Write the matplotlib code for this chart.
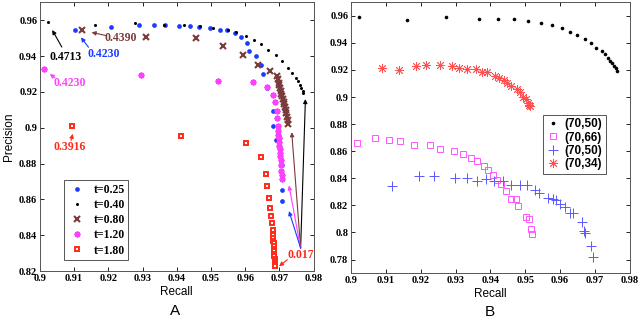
import numpy as np
import matplotlib
matplotlib.use("Agg")
import matplotlib.pyplot as plt

plt.rcParams["font.family"] = ["Liberation Sans", "DejaVu Sans"]

# ---- panel A data (precision / recall for several thresholds t) ----
a_labels = ["t=0.25", "t=0.40", "t=0.80", "t=1.20", "t=1.80"]

a_x_025 = [0.9103, 0.9208, 0.9291, 0.9332, 0.9366, 0.9407, 0.9438, 0.9466, 0.9496,
           0.9527, 0.9548, 0.9571, 0.9587, 0.9604, 0.9612, 0.9633, 0.9645, 0.9652,
           0.9665, 0.9680, 0.9682, 0.9691, 0.9709, 0.9709, 0.9709]
a_y_025 = [0.9543, 0.9560, 0.9571, 0.9575, 0.9571, 0.9565, 0.9565, 0.9564, 0.9557,
           0.9545, 0.9545, 0.9529, 0.9508, 0.9473, 0.9430, 0.9398, 0.9350, 0.9302,
           0.9222, 0.9096, 0.9012, 0.8929, 0.8793, 0.8654, 0.8589]

a_x_040 = [0.9024, 0.9161, 0.9277, 0.9364, 0.9421, 0.9467, 0.9506, 0.9551, 0.9573,
           0.9603, 0.9626, 0.9647, 0.9667, 0.9690, 0.9709, 0.9725, 0.9738, 0.9748,
           0.9755, 0.9760, 0.9764, 0.9768, 0.9770]
a_y_040 = [0.9592, 0.9573, 0.9584, 0.9573, 0.9575, 0.9568, 0.9557, 0.9545, 0.9532,
           0.9514, 0.9491, 0.9467, 0.9434, 0.9406, 0.9371, 0.9334, 0.9304, 0.9280,
           0.9260, 0.9240, 0.9220, 0.9204, 0.9195]

a_x_080 = [0.9124, 0.9310, 0.9455, 0.9536, 0.9595, 0.9638, 0.9672, 0.9692,
           0.9695, 0.9698, 0.9700, 0.9702, 0.9704, 0.9706, 0.9708, 0.9710,
           0.9712, 0.9714, 0.9716, 0.9718, 0.9720, 0.9722, 0.9724, 0.9726]
a_y_080 = [0.9545, 0.9508, 0.9502, 0.9458, 0.9408, 0.9350, 0.9315, 0.9291,
           0.9270, 0.9252, 0.9236, 0.9220, 0.9205, 0.9190, 0.9175, 0.9160,
           0.9145, 0.9130, 0.9113, 0.9097, 0.9080, 0.9062, 0.9042, 0.9020]

a_x_120 = [0.9012, 0.9296, 0.9520, 0.9623, 0.9665, 0.9680, 0.9687, 0.9692, 0.9694,
           0.9696, 0.9697, 0.9697, 0.9698, 0.9699, 0.9700, 0.9701, 0.9702, 0.9703,
           0.9704, 0.9705, 0.9706, 0.9707, 0.9707]
a_y_120 = [0.9328, 0.9296, 0.9263, 0.9253, 0.9229, 0.9185, 0.9142, 0.9096, 0.9053,
           0.9012, 0.8980, 0.8960, 0.8940, 0.8920, 0.8900, 0.8880, 0.8860, 0.8840,
           0.8820, 0.8790, 0.8760, 0.8735, 0.8712]

a_x_180 = [0.9093, 0.9412, 0.9603, 0.9645, 0.9660, 0.9665, 0.9670, 0.9673, 0.9675,
           0.9677, 0.9680, 0.9681, 0.9682, 0.9682, 0.9683, 0.9683, 0.9684, 0.9684,
           0.9685, 0.9685, 0.9686, 0.9686, 0.9687, 0.9687, 0.9688]
a_y_180 = [0.9008, 0.8955, 0.8916, 0.8836, 0.8743, 0.8673, 0.8610, 0.8554, 0.8505,
           0.8468, 0.8431, 0.8400, 0.8385, 0.8370, 0.8355, 0.8340, 0.8325, 0.8310,
           0.8295, 0.8282, 0.8270, 0.8258, 0.8246, 0.8236, 0.8227]

# ---- panel B data ----
b_labels = ["(70,50)", "(70,66)", "(70,50)", "(70,34)"]

b_x_black = [0.9023, 0.9161, 0.9274, 0.9367, 0.9422, 0.9468, 0.9509, 0.9544, 0.9576,
             0.9604, 0.9627, 0.9648, 0.9670, 0.9690, 0.9704, 0.9719, 0.9730, 0.9738,
             0.9743, 0.9748, 0.9755, 0.9759, 0.9764]
b_y_black = [0.9590, 0.9570, 0.9590, 0.9580, 0.9580, 0.9575, 0.9565, 0.9546, 0.9531,
             0.9511, 0.9484, 0.9459, 0.9427, 0.9398, 0.9365, 0.9341, 0.9316, 0.9287,
             0.9267, 0.9249, 0.9230, 0.9213, 0.9193]

b_x_sq = [0.9018, 0.9070, 0.9109, 0.9140, 0.9180, 0.9226, 0.9255, 0.9295, 0.9320,
          0.9343, 0.9362, 0.9382, 0.9394, 0.9408, 0.9420, 0.9430, 0.9444, 0.9458,
          0.9473, 0.9479, 0.9503, 0.9511, 0.9517, 0.9520]
b_y_sq = [0.8661, 0.8699, 0.8686, 0.8676, 0.8644, 0.8644, 0.8619, 0.8602, 0.8582,
          0.8548, 0.8528, 0.8489, 0.8464, 0.8424, 0.8390, 0.8356, 0.8306, 0.8244,
          0.8244, 0.8193, 0.8113, 0.8101, 0.8027, 0.7985]

b_x_plus = [0.9119, 0.9194, 0.9239, 0.9298, 0.9332, 0.9362, 0.9386, 0.9411, 0.9435,
            0.9458, 0.9484, 0.9506, 0.9527, 0.9540, 0.9565, 0.9580, 0.9589, 0.9601,
            0.9613, 0.9629, 0.9637, 0.9663, 0.9668, 0.9672, 0.9688, 0.9694]
b_y_plus = [0.8343, 0.8417, 0.8420, 0.8405, 0.8402, 0.8380, 0.8392, 0.8380, 0.8380,
            0.8348, 0.8353, 0.8348, 0.8311, 0.8294, 0.8257, 0.8249, 0.8237, 0.8207,
            0.8187, 0.8143, 0.8146, 0.8076, 0.8007, 0.7995, 0.7898, 0.7822]

b_x_star = [0.9089, 0.9138, 0.9186, 0.9215, 0.9256, 0.9291, 0.9310, 0.9332, 0.9358,
            0.9376, 0.9389, 0.9413, 0.9424, 0.9439, 0.9449, 0.9460, 0.9475, 0.9484,
            0.9494, 0.9501, 0.9508, 0.9511, 0.9515]
b_y_star = [0.9217, 0.9202, 0.9230, 0.9235, 0.9235, 0.9232, 0.9215, 0.9207, 0.9205,
            0.9185, 0.9185, 0.9156, 0.9141, 0.9126, 0.9106, 0.9081, 0.9057, 0.9039,
            0.8998, 0.8983, 0.8958, 0.8938, 0.8934]

x_ticks = [0.9, 0.91, 0.92, 0.93, 0.94, 0.95, 0.96, 0.97, 0.98]
x_ticklabels = ["0.9", "0.91", "0.92", "0.93", "0.94", "0.95", "0.96", "0.97", "0.98"]
a_yticks = [0.82, 0.84, 0.86, 0.88, 0.9, 0.92, 0.94, 0.96]
a_yticklabels = ["0.82", "0.84", "0.86", "0.88", "0.9", "0.92", "0.94", "0.96"]
b_yticks = [0.78, 0.8, 0.82, 0.84, 0.86, 0.88, 0.9, 0.92, 0.94, 0.96]
b_yticklabels = ["0.78", "0.8", "0.82", "0.84", "0.86", "0.88", "0.9", "0.92", "0.94", "0.96"]

BLUE = "#1a3cff"
BROWN = "#7a3b3b"
MAGENTA = "#ff40ff"
RED = "#ff2a1a"
SERIF = ["Liberation Serif", "DejaVu Serif"]
ASTERISK = (8, 2, 0)  # MATLAB-style '*' (plus and cross overlaid)


def style_axes(ax, yticks, yticklabels):
    ax.set_xlim(0.9, 0.98)
    ax.set_xticks(x_ticks)
    ax.set_xticklabels(x_ticklabels)
    ax.set_yticks(yticks)
    ax.set_yticklabels(yticklabels)
    ax.tick_params(direction="in", top=True, right=True, length=3, width=0.6,
                   labelsize=7.5, pad=2)
    for lab in ax.get_xticklabels() + ax.get_yticklabels():
        lab.set_family(SERIF)
        lab.set_fontweight("bold")
    for sp in ax.spines.values():
        sp.set_linewidth(0.7)
        sp.set_color("#555555")
    ax.set_xlabel("Recall", fontsize=8.5, labelpad=2)


def arrow(ax, tail, head, color):
    ax.annotate("", xy=head, xytext=tail,
                arrowprops=dict(arrowstyle="-|>", color=color, lw=0.8,
                                mutation_scale=6, shrinkA=0, shrinkB=0))


fig = plt.figure(figsize=(6.44, 3.22), dpi=100)
axA = fig.add_axes([0.062, 0.158, 0.425, 0.835])
axB = fig.add_axes([0.545, 0.152, 0.433, 0.841])

# panel A
axA.plot(a_x_025, a_y_025, "o", color=BLUE, ms=3.4, mew=0, label=a_labels[0])
axA.plot(a_x_040, a_y_040, "o", color="black", ms=2.2, mew=0, label=a_labels[1])
axA.plot(a_x_080, a_y_080, "x", color=BROWN, ms=3.8, mew=1.5, label=a_labels[2])
axA.plot(a_x_120, a_y_120, marker=ASTERISK, ls="none", color=MAGENTA, ms=4.2, mew=1.3,
         label=a_labels[3])
axA.plot(a_x_180, a_y_180, "s", color=RED, mfc="white", ms=3.4, mew=1.4, label=a_labels[4])
axA.set_ylim(0.82, 0.97)
style_axes(axA, a_yticks, a_yticklabels)
axA.set_ylabel("Precision", fontsize=8.5, labelpad=3)

ann_font = dict(family=SERIF, fontweight="bold", fontsize=8.5)
axA.text(0.9027, 0.9397, "0.4713", color="black", va="center", **ann_font)
arrow(axA, (0.9064, 0.9450), (0.9036, 0.9545), "black")
axA.text(0.9139, 0.9413, "0.4230", color=BLUE, va="center", **ann_font)
arrow(axA, (0.9142, 0.9449), (0.9120, 0.9504), BLUE)
axA.text(0.9190, 0.9501, "0.4390", color=BROWN, va="center", **ann_font)
arrow(axA, (0.9194, 0.9514), (0.9151, 0.9532), BROWN)
axA.text(0.9039, 0.9248, "0.4230", color=MAGENTA, va="center", **ann_font)
arrow(axA, (0.9044, 0.9278), (0.9029, 0.9300), MAGENTA)
axA.text(0.9039, 0.8895, "0.3916", color=RED, va="center", **ann_font)
arrow(axA, (0.9091, 0.8929), (0.9096, 0.8966), RED)
axA.text(0.9723, 0.8290, "0.017", color=RED, va="center", **ann_font)
arrow(axA, (0.9723, 0.8264), (0.9699, 0.8227), RED)
tail = (0.9762, 0.8328)
arrow(axA, tail, (0.9776, 0.9160), "black")
arrow(axA, tail, (0.9736, 0.8975), BROWN)
arrow(axA, tail, (0.9728, 0.8678), MAGENTA)
arrow(axA, tail, (0.9728, 0.8535), BLUE)

legA = axA.legend(loc="lower left", bbox_to_anchor=(0.088, 0.041), borderaxespad=0,
                  frameon=True, fancybox=False, edgecolor="#555555", framealpha=1,
                  prop=dict(family=SERIF, weight="bold", size=8.5),
                  handlelength=1.6, handletextpad=0.6, labelspacing=0.27,
                  borderpad=0.3, markerscale=1.0)
legA.get_frame().set_linewidth(0.7)

# panel B
axB.plot(b_x_black, b_y_black, "o", color="black", ms=2.6, mew=0, label=b_labels[0])
axB.plot(b_x_sq, b_y_sq, "s", color="#ff55ff", mfc="none", ms=4.2, mew=0.7, label=b_labels[1])
axB.plot(b_x_plus, b_y_plus, "+", color="#5a5aff", ms=7, mew=0.7, label=b_labels[2])
axB.plot(b_x_star, b_y_star, marker=ASTERISK, ls="none", color="#ff5050", ms=6.5, mew=0.6,
         label=b_labels[3])
axB.set_ylim(0.77, 0.97)
style_axes(axB, b_yticks, b_yticklabels)

legB = axB.legend(loc="upper left", bbox_to_anchor=(0.687, 0.585), borderaxespad=0,
                  frameon=True, fancybox=False, edgecolor="#555555", framealpha=1,
                  prop=dict(weight="bold", size=8.5),
                  handlelength=1.2, handletextpad=0.35, labelspacing=0.12,
                  borderpad=0.3)
legB.get_frame().set_linewidth(0.7)

fig.text(175 / 644, 1 - 311 / 322, "A", fontsize=11, ha="center", va="center")
fig.text(490 / 644, 1 - 312 / 322, "B", fontsize=11, ha="center", va="center")

fig.savefig("out.png", dpi=100)
